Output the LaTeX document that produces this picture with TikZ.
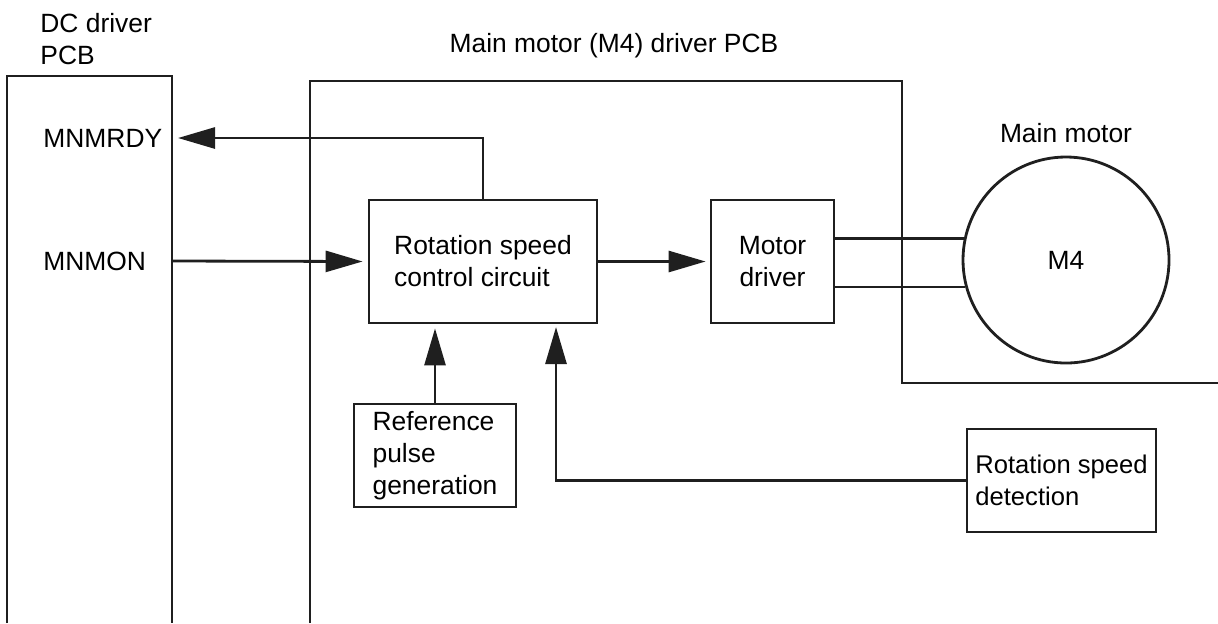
\documentclass[tikz,border=0pt]{standalone}
\usepackage{fontspec}
\setmainfont{Liberation Sans}
\usetikzlibrary{arrows.meta,calc}
\begin{document}
\begin{tikzpicture}[x=0.5pt,y=-0.5pt,
  every node/.style={font=\fontsize{13.2}{16}\selectfont, text=black},
  ln/.style={line width=1.4pt, draw=black!88},
  box/.style={ln, draw, rectangle, inner sep=3pt},
  arr/.style={ln, -{Triangle[length=18.5pt,width=10.5pt]}},
  lbl/.style={inner sep=0pt}]
\useasboundingbox (0,0) rectangle (1218,623);
% PCB outlines
\coordinate (dcbl) at (7,623);
\coordinate (dctl) at (7,76);
\coordinate (dctr) at (172,76);
\coordinate (dcbr) at (172,623);
\draw[ln] (dcbl) -- (dctl) -- (dctr) -- (dcbr);
\coordinate (mbl) at (310,623);
\coordinate (mtl) at (310,81);
\coordinate (mtr) at (902,81);
\coordinate (mbr) at (902,383);
\coordinate (mend) at (1218,383);
\draw[ln] (mbl) -- (mtl) -- (mtr) -- (mbr) -- (mend);
% titles
\node[lbl, anchor=west, align=left] (dctitle) at (40,39) {DC driver\\PCB};
\node[lbl] (mtitle) at (614,46) {Main motor (M4) driver PCB};
\node[lbl] (mmtitle) at (1066,133) {Main motor};
% signal labels
\node[lbl, anchor=west] (rdy) at (43,138) {MNMRDY};
\node[lbl, anchor=west] (mon) at (43,261) {MNMON};
% blocks
\node[box, minimum width=114pt, minimum height=61.5pt, align=left] (rsc) at (483,261.5) {Rotation speed\\control circuit};
\node[box, minimum width=61.5pt, minimum height=61.5pt, align=center] (md) at (772.5,261.5) {Motor\\driver};
\node[box, minimum width=81pt, minimum height=51.5pt, align=left] (rp) at (435,455.5) {Reference\\pulse\\generation};
\node[box, minimum width=94.5pt, minimum height=51.5pt, align=left, inner sep=0.5pt, font=\fontsize{12.8}{16}\selectfont] (rsd) at (1061.5,480.5) {Rotation speed\\detection};
\node[ln, draw, circle, minimum size=103pt, inner sep=0pt] (motor) at (1066,260) {M4};
% connectors
\coordinate (rdytip) at (178,138);
\coordinate (monstart) at (172,261);
\coordinate (dettip) at (556,323);
\draw[arr] (rsc.north) |- (rdytip);
\draw[arr, shorten >=2.5pt] (monstart) -- (rsc.west);
\draw[arr, shorten >=2pt] (rsc.east) -- (md.west);
\draw[ln] (md.east |- motor.168.2) -- (motor.168.2);
\draw[ln] (md.east |- motor.195.2) -- (motor.195.2);
\draw[arr, shorten >=2pt] (rp.north) -- (rp.north |- rsc.south);
\draw[arr, shorten >=2pt] (rsd.west) -| (dettip);
\end{tikzpicture}
\end{document}
